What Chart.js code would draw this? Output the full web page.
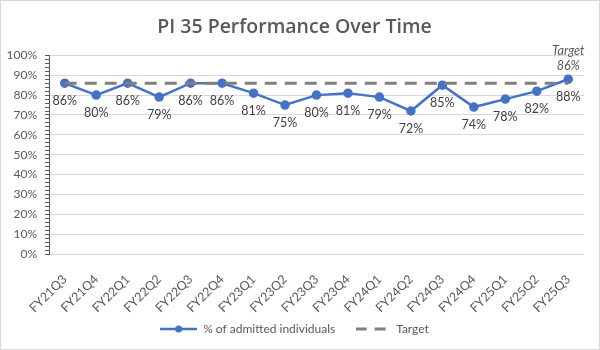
<!DOCTYPE html>
<html>
<head>
<meta charset="utf-8">
<script src="https://cdn.jsdelivr.net/npm/chart.js@4"></script>
<style>
  html, body { margin: 0; padding: 0; background: #fff; }
  canvas { display: block; }
</style>
</head>
<body>
<canvas id="piChart" width="600" height="350"></canvas>
<script>
// Chart data
const quarters = ['FY21Q3', 'FY21Q4', 'FY22Q1', 'FY22Q2', 'FY22Q3', 'FY22Q4', 'FY23Q1', 'FY23Q2', 'FY23Q3',
    'FY23Q4', 'FY24Q1', 'FY24Q2', 'FY24Q3', 'FY24Q4', 'FY25Q1', 'FY25Q2', 'FY25Q3'];
const admittedPct = [86, 80, 86, 79, 86, 86, 81, 75, 80, 81, 79, 72, 85, 74, 78, 82, 88];
const targetPct = [86, 86, 86, 86, 86, 86, 86, 86, 86, 86, 86, 86, 86, 86, 86, 86, 86];
const yTickLabels = [0, 10, 20, 30, 40, 50, 60, 70, 80, 90, 100];

const FONT = "Lato, 'Open Sans', sans-serif";
const TITLE_FONT = "'Open Sans', sans-serif";
const BLUE = '#4472C4';
const GREY = '#7f7f7f';
const TEXT = '#595959';

// Small legend icons drawn to canvases (line + marker, dashed line).
function makeSeriesIcon() {
    const c = document.createElement('canvas');
    c.width = 37; c.height = 10;
    const g = c.getContext('2d');
    g.strokeStyle = BLUE;
    g.lineWidth = 2.5;
    g.beginPath(); g.moveTo(0, 5); g.lineTo(37, 5); g.stroke();
    g.fillStyle = BLUE;
    g.beginPath(); g.arc(18.5, 5, 3.5, 0, Math.PI * 2); g.fill();
    return c;
}
function makeTargetIcon() {
    const c = document.createElement('canvas');
    c.width = 32; c.height = 10;
    const g = c.getContext('2d');
    g.strokeStyle = GREY;
    g.lineWidth = 3;
    g.setLineDash([11, 8]);
    g.beginPath(); g.moveTo(0, 5); g.lineTo(32, 5); g.stroke();
    return c;
}
const seriesIcon = makeSeriesIcon();
const targetIcon = makeTargetIcon();

// Frame and white background.
const framePlugin = {
    id: 'frame',
    beforeDraw(chart) {
        const ctx = chart.ctx;
        ctx.save();
        ctx.fillStyle = '#fff';
        ctx.fillRect(0, 0, chart.width, chart.height);
        ctx.restore();
    },
    afterDraw(chart) {
        const ctx = chart.ctx;
        ctx.save();
        ctx.strokeStyle = '#d9d9d9';
        ctx.lineWidth = 1;
        ctx.strokeRect(0.5, 0.5, chart.width - 1, chart.height - 1);
        ctx.restore();
    }
};

// Value labels under each point, plus the "Target 86%" note at the end.
const valueLabels = {
    id: 'valueLabels',
    afterDatasetsDraw(chart) {
        const ctx = chart.ctx;
        const meta = chart.getDatasetMeta(1);
        ctx.save();
        ctx.font = '12.5px ' + FONT;
        ctx.fillStyle = '#3f3f3f';
        ctx.textAlign = 'center';
        ctx.textBaseline = 'middle';
        meta.data.forEach(function (pt, i) {
            ctx.fillText(admittedPct[i] + '%', pt.x, pt.y + 18);
        });
        const tMeta = chart.getDatasetMeta(0);
        const last = tMeta.data.length - 1;
        const lp = tMeta.data[last];
        ctx.font = 'italic 12.5px ' + FONT;
        ctx.fillStyle = TEXT;
        ctx.fillText('Target', lp.x, lp.y - 32);
        ctx.fillText(targetPct[last] + '%', lp.x, lp.y - 17);
        ctx.restore();
    }
};

new Chart(document.getElementById('piChart'), {
    type: 'line',
    data: {
        labels: quarters,
        datasets: [{
            label: 'Target',
            data: targetPct,
            borderColor: GREY,
            borderWidth: 3,
            borderDash: [12, 8],
            pointRadius: 0,
            pointHoverRadius: 0,
            fill: false,
            tension: 0
        }, {
            label: '% of admitted individuals',
            data: admittedPct,
            borderColor: BLUE,
            backgroundColor: BLUE,
            borderWidth: 2.5,
            pointRadius: 3.5,
            pointBackgroundColor: BLUE,
            pointBorderColor: BLUE,
            fill: false,
            tension: 0
        }]
    },
    options: {
        responsive: false,
        animation: false,
        layout: { padding: { left: 5, right: 16, top: 0, bottom: 5 } },
        plugins: {
            title: {
                display: true,
                text: 'PI 35 Performance Over Time',
                color: TEXT,
                font: { family: TITLE_FONT, size: 19.5, weight: '600' },
                padding: { top: 16, bottom: 16 }
            },
            legend: {
                position: 'bottom',
                labels: {
                    usePointStyle: true,
                    pointStyleWidth: 37,
                    padding: 18,
                    color: TEXT,
                    font: { family: FONT, size: 12 },
                    generateLabels: function () {
                        return [
                            { text: '% of admitted individuals', pointStyle: seriesIcon, fontColor: TEXT,
                              datasetIndex: 1, hidden: false, lineWidth: 0, strokeStyle: 'transparent', fillStyle: 'transparent' },
                            { text: 'Target', pointStyle: targetIcon, fontColor: TEXT,
                              datasetIndex: 0, hidden: false, lineWidth: 0, strokeStyle: 'transparent', fillStyle: 'transparent' }
                        ];
                    }
                }
            },
            tooltip: { enabled: false }
        },
        scales: {
            x: {
                offset: true,
                grid: { display: false },
                border: { display: false },
                ticks: {
                    color: TEXT,
                    font: { family: FONT, size: 12.5 },
                    minRotation: 45,
                    maxRotation: 45,
                    autoSkip: false,
                    padding: 10
                },
                afterFit: function (scale) {
                    scale.height = 51;
                    // let the rotated labels run past the axis box instead of being cut
                    scale._computeLabelArea = function () { return undefined; };
                }
            },
            y: {
                min: 0,
                max: 100,
                afterBuildTicks: function (scale) {
                    // major ticks every 10%, minor marks every 2%
                    const t = [];
                    for (let v = 0; v <= 100; v += 2) t.push({ value: v });
                    scale.ticks = t;
                },
                grid: {
                    color: function (c) {
                        return yTickLabels.includes(c.tick.value) ? '#d9d9d9' : 'transparent';
                    },
                    tickColor: '#595959',
                    tickLength: 4,
                    lineWidth: 1
                },
                border: { display: true, color: '#595959', width: 1 },
                ticks: {
                    color: TEXT,
                    font: { family: FONT, size: 12 },
                    padding: 8,
                    autoSkip: false,
                    callback: function (v) {
                        return yTickLabels.includes(v) ? v + '%' : '';
                    }
                },
                afterFit: function (scale) { scale.width = 44; }
            }
        }
    },
    plugins: [framePlugin, valueLabels]
});
</script>
</body>
</html>
